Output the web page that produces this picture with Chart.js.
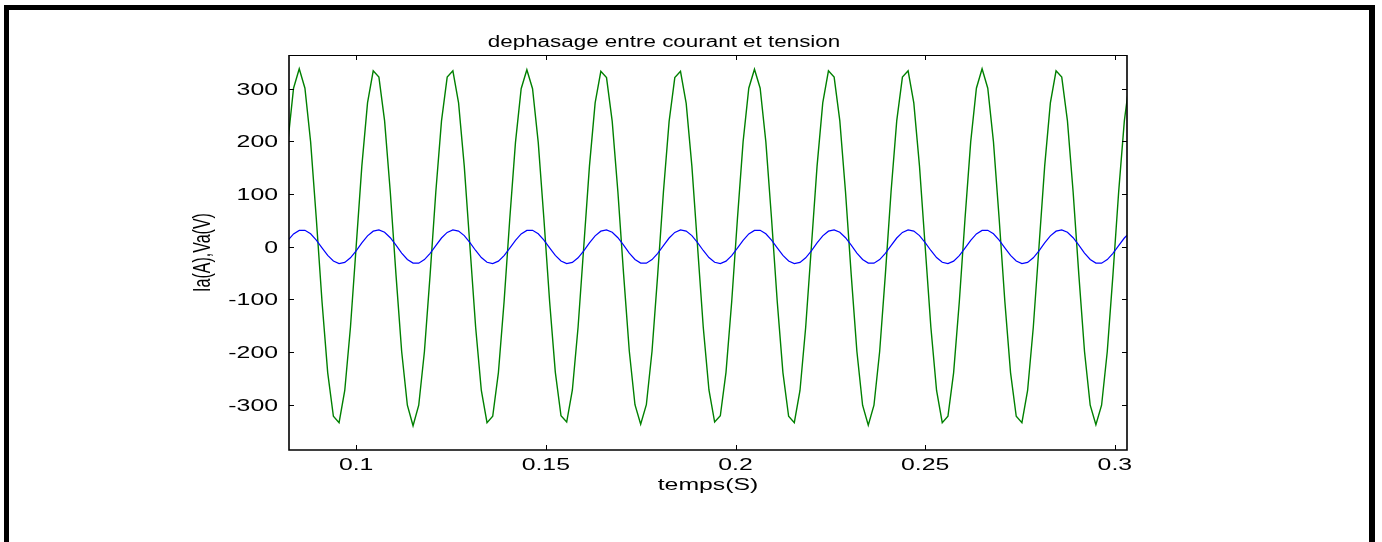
<!DOCTYPE html>
<html>
<head>
<meta charset="utf-8">
<title>dephasage entre courant et tension</title>
<script src="https://cdn.jsdelivr.net/npm/chart.js@4"></script>
<style>
  html, body { margin: 0; padding: 0; background: #fff; }
  #wrap { width: 1382px; height: 542px; }
</style>
</head>
<body>
<div id="wrap"><canvas id="chart" width="1382" height="542"></canvas></div>
<script>
// temps (s)
const time = [
  0.082, 0.0835, 0.085, 0.0865, 0.088, 0.0895, 0.091, 0.0925, 0.094, 0.0955,
  0.097, 0.0985, 0.1, 0.1015, 0.103, 0.1045, 0.106, 0.1075, 0.109, 0.1105,
  0.112, 0.1135, 0.115, 0.1165, 0.118, 0.1195, 0.121, 0.1225, 0.124, 0.1255,
  0.127, 0.1285, 0.13, 0.1315, 0.133, 0.1345, 0.136, 0.1375, 0.139, 0.1405,
  0.142, 0.1435, 0.145, 0.1465, 0.148, 0.1495, 0.151, 0.1525, 0.154, 0.1555,
  0.157, 0.1585, 0.16, 0.1615, 0.163, 0.1645, 0.166, 0.1675, 0.169, 0.1705,
  0.172, 0.1735, 0.175, 0.1765, 0.178, 0.1795, 0.181, 0.1825, 0.184, 0.1855,
  0.187, 0.1885, 0.19, 0.1915, 0.193, 0.1945, 0.196, 0.1975, 0.199, 0.2005,
  0.202, 0.2035, 0.205, 0.2065, 0.208, 0.2095, 0.211, 0.2125, 0.214, 0.2155,
  0.217, 0.2185, 0.22, 0.2215, 0.223, 0.2245, 0.226, 0.2275, 0.229, 0.2305,
  0.232, 0.2335, 0.235, 0.2365, 0.238, 0.2395, 0.241, 0.2425, 0.244, 0.2455,
  0.247, 0.2485, 0.25, 0.2515, 0.253, 0.2545, 0.256, 0.2575, 0.259, 0.2605,
  0.262, 0.2635, 0.265, 0.2665, 0.268, 0.2695, 0.271, 0.2725, 0.274, 0.2755,
  0.277, 0.2785, 0.28, 0.2815, 0.283, 0.2845, 0.286, 0.2875, 0.289, 0.2905,
  0.292, 0.2935, 0.295, 0.2965, 0.298, 0.2995, 0.301, 0.3025, 0.304
];

// Va(V) - tension (vert)
const va = [
  199, 301, 338, 301, 199, 53, -104, -239, -322, -334,
  -273, -153, 0, 153, 273, 334, 322, 239, 104, -53,
  -199, -301, -340, -301, -199, -53, 104, 239, 322, 334,
  273, 153, 0, -153, -273, -334, -322, -239, -104, 53,
  198, 300, 336, 300, 198, 52, -104, -238, -321, -333,
  -272, -153, 0, 153, 273, 333, 321, 238, 104, -52,
  -198, -300, -337, -300, -198, -52, 104, 238, 321, 333,
  272, 153, 0, -153, -272, -333, -321, -238, -104, 52,
  199, 301, 337, 301, 199, 53, -104, -239, -322, -334,
  -273, -153, 0, 153, 273, 334, 322, 239, 104, -53,
  -199, -301, -339, -301, -199, -53, 104, 239, 322, 334,
  273, 153, 0, -153, -273, -334, -322, -239, -104, 53,
  199, 301, 338, 301, 199, 53, -104, -239, -322, -334,
  -273, -153, 0, 153, 273, 334, 322, 239, 104, -53,
  -199, -301, -338, -301, -199, -53, 104, 239, 322
];

// Ia(A) - courant (bleu)
const ia = [
  12.0, 24.2, 31.0, 31.2, 24.5, 12.5, -2.2, -16.5, -27.1, -31.9,
  -29.7, -21.0, -7.7, 7.2, 20.6, 29.5, 31.9, 27.4, 17.0, 2.8,
  -12.0, -24.2, -31.0, -31.2, -24.5, -12.5, 2.2, 16.5, 27.1, 31.9,
  29.7, 21.0, 7.7, -7.2, -20.6, -29.5, -31.9, -27.4, -17.0, -2.8,
  12.0, 24.2, 31.0, 31.2, 24.5, 12.5, -2.2, -16.5, -27.1, -31.9,
  -29.7, -21.0, -7.7, 7.2, 20.6, 29.5, 31.9, 27.4, 17.0, 2.8,
  -12.0, -24.2, -31.0, -31.2, -24.5, -12.5, 2.2, 16.5, 27.1, 31.9,
  29.7, 21.0, 7.7, -7.2, -20.6, -29.5, -31.9, -27.4, -17.0, -2.8,
  12.0, 24.2, 31.0, 31.2, 24.5, 12.5, -2.2, -16.5, -27.1, -31.9,
  -29.7, -21.0, -7.7, 7.2, 20.6, 29.5, 31.9, 27.4, 17.0, 2.8,
  -12.0, -24.2, -31.0, -31.2, -24.5, -12.5, 2.2, 16.5, 27.1, 31.9,
  29.7, 21.0, 7.7, -7.2, -20.6, -29.5, -31.9, -27.4, -17.0, -2.8,
  12.0, 24.2, 31.0, 31.2, 24.5, 12.5, -2.2, -16.5, -27.1, -31.9,
  -29.7, -21.0, -7.7, 7.2, 20.6, 29.5, 31.9, 27.4, 17.0, 2.8,
  -12.0, -24.2, -31.0, -31.2, -24.5, -12.5, 2.2, 16.5, 27.1
];

const xTicks = [0.1, 0.15, 0.2, 0.25, 0.3];
const xTickLabels = ['0.1', '0.15', '0.2', '0.25', '0.3'];
const yTicks = [300, 200, 100, 0, -100, -200, -300];
const yTickLabels = ['300', '200', '100', '0', '-100', '-200', '-300'];

const titleText = 'dephasage entre courant et tension';
const xLabel = 'temps(S)';
const yLabel = 'Ia(A),Va(V)';

// the picture is stretched horizontally, so text is too
const SX = 1.55;
const FONT = '16px "Liberation Sans", Arial, sans-serif';

function stretchText(ctx, txt, x, y, align, baseline, font, rotate, sx) {
  ctx.save();
  ctx.translate(x, y);
  ctx.scale(sx || SX, 1);
  if (rotate) ctx.rotate(-Math.PI / 2);
  ctx.font = font;
  ctx.fillStyle = '#000';
  ctx.textAlign = align;
  ctx.textBaseline = baseline;
  ctx.fillText(txt, 0, 0);
  ctx.restore();
}

// matlab style box, inward ticks, labels and outer frame
const matlabAxes = {
  id: 'matlabAxes',
  afterDraw(chart) {
    const ctx = chart.ctx;
    const { left, right, top, bottom } = chart.chartArea;
    const xs = chart.scales.x;
    const ys = chart.scales.y;
    const tl = 5;

    ctx.save();
    ctx.strokeStyle = '#000';

    // ticks
    ctx.lineWidth = 1;
    ctx.beginPath();
    xTicks.forEach(v => {
      const px = Math.round(xs.getPixelForValue(v)) + 0.5;
      ctx.moveTo(px, bottom); ctx.lineTo(px, bottom - tl);
      ctx.moveTo(px, top); ctx.lineTo(px, top + tl);
    });
    yTicks.forEach(v => {
      const py = Math.round(ys.getPixelForValue(v)) + 0.5;
      ctx.moveTo(left, py); ctx.lineTo(left + tl, py);
      ctx.moveTo(right, py); ctx.lineTo(right - tl, py);
    });
    ctx.stroke();

    // box
    ctx.lineWidth = 1;
    ctx.beginPath();
    ctx.moveTo(left, top + 0.5); ctx.lineTo(right, top + 0.5);
    ctx.stroke();
    ctx.lineWidth = 1.6;
    ctx.beginPath();
    ctx.moveTo(left, top); ctx.lineTo(left, bottom);
    ctx.lineTo(right, bottom); ctx.lineTo(right, top);
    ctx.stroke();
    ctx.restore();

    // tick labels
    xTicks.forEach((v, i) => {
      stretchText(ctx, xTickLabels[i], xs.getPixelForValue(v), bottom + 20, 'center', 'alphabetic', FONT);
    });
    yTicks.forEach((v, i) => {
      stretchText(ctx, yTickLabels[i], left - 11, ys.getPixelForValue(v) + 6, 'right', 'alphabetic', FONT);
    });

    // titles
    stretchText(ctx, titleText, 664, 47, 'center', 'alphabetic', '16px "Liberation Sans", Arial, sans-serif', false, 1.4);
    stretchText(ctx, xLabel, (left + right) / 2, 490, 'center', 'alphabetic', FONT);
    stretchText(ctx, yLabel, 203, (top + bottom) / 2, 'center', 'middle', FONT, true);

    // outer frame
    ctx.save();
    ctx.fillStyle = '#000';
    ctx.fillRect(4, 5, 5, 537);
    ctx.fillRect(4, 5, 1371, 5);
    ctx.fillRect(1369, 5, 6, 537);
    ctx.restore();
  }
};

new Chart(document.getElementById('chart'), {
  type: 'line',
  data: {
    datasets: [
      {
        label: 'Ia(A)',
        data: time.map((t, i) => ({ x: t, y: ia[i] })),
        borderColor: '#0000ff',
        borderWidth: 1.2,
        pointRadius: 0,
        tension: 0,
        fill: false
      },
      {
        label: 'Va(V)',
        data: time.map((t, i) => ({ x: t, y: va[i] })),
        borderColor: '#008000',
        borderWidth: 1.4,
        pointRadius: 0,
        tension: 0,
        fill: false
      }
    ]
  },
  options: {
    responsive: false,
    animation: false,
    events: [],
    layout: { padding: { left: 289, top: 55, right: 255, bottom: 92 } },
    plugins: {
      legend: { display: false },
      tooltip: { enabled: false },
      title: { display: false }
    },
    scales: {
      x: { type: 'linear', min: 0.0823, max: 0.3032, display: false },
      y: { type: 'linear', min: -386, max: 364, display: false }
    }
  },
  plugins: [matlabAxes]
});
</script>
</body>
</html>
